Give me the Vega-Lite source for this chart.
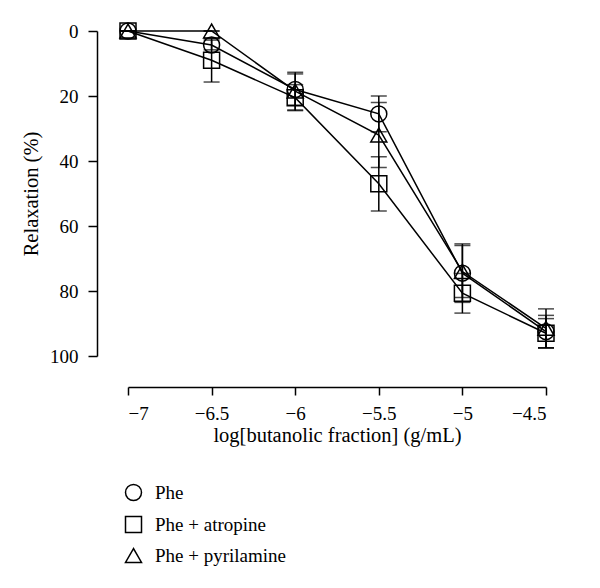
{
  "$schema": "https://vega.github.io/schema/vega-lite/v6.json",
  "autosize": "none",
  "width": 418,
  "height": 325,
  "padding": {"left": 128, "top": 31, "right": 54, "bottom": 232},
  "background": "white",
  "config": {
    "font": "Liberation Serif",
    "view": {"stroke": null},
    "axis": {"domainColor": "black", "tickColor": "black", "labelColor": "black", "titleColor": "black", "grid": false, "labelFont": "Liberation Serif", "titleFont": "Liberation Serif", "labelFontSize": 19, "titleFontSize": 20.5, "titleFontWeight": "normal", "domainWidth": 1.5, "tickWidth": 1.5}
  },
  "datasets": {
    "pts": [
      {"x": -7, "y": 0, "lo": 0, "hi": 0, "series": "Phe"},
      {"x": -6.5, "y": 4.3, "lo": 2.8, "hi": 5.8, "series": "Phe"},
      {"x": -6, "y": 18, "lo": 13.2, "hi": 22.8, "series": "Phe"},
      {"x": -5.5, "y": 25.5, "lo": 20, "hi": 31, "series": "Phe"},
      {"x": -5, "y": 74.5, "lo": 65.5, "hi": 83.5, "series": "Phe"},
      {"x": -4.5, "y": 92.5, "lo": 87.5, "hi": 97.5, "series": "Phe"},
      {"x": -7, "y": 0, "lo": 0, "hi": 0, "series": "Phe + atropine"},
      {"x": -6.5, "y": 9, "lo": 2.3, "hi": 15.7, "series": "Phe + atropine"},
      {"x": -6, "y": 20.5, "lo": 16.5, "hi": 24.5, "series": "Phe + atropine"},
      {"x": -5.5, "y": 47, "lo": 38.7, "hi": 55.4, "series": "Phe + atropine"},
      {"x": -5, "y": 80.7, "lo": 74.6, "hi": 86.8, "series": "Phe + atropine"},
      {"x": -4.5, "y": 93, "lo": 88.5, "hi": 97.5, "series": "Phe + atropine"},
      {"x": -7, "y": 0, "lo": 0, "hi": 0, "series": "Phe + pyrilamine"},
      {"x": -6.5, "y": 0, "lo": 0, "hi": 0, "series": "Phe + pyrilamine"},
      {"x": -6, "y": 18.5, "lo": 12.7, "hi": 24.3, "series": "Phe + pyrilamine"},
      {"x": -5.5, "y": 32, "lo": 22, "hi": 42, "series": "Phe + pyrilamine"},
      {"x": -5, "y": 74, "lo": 66, "hi": 82, "series": "Phe + pyrilamine"},
      {"x": -4.5, "y": 91.5, "lo": 85.5, "hi": 97.5, "series": "Phe + pyrilamine"}
    ]
  },
  "data": {"name": "pts"},
  "encoding": {
    "x": {"field": "x", "type": "quantitative", "scale": {"domain": [-7, -4.5], "nice": false, "zero": false},
      "axis": {"values": [-7, -6.5, -6, -5.5, -5, -4.5], "format": "~g", "offset": 31, "tickSize": 8, "labelPadding": 9, "title": "log[butanolic fraction] (g/mL)", "titlePadding": 2}},
    "y": {"field": "y", "type": "quantitative", "scale": {"domain": [0, 100], "reverse": true, "nice": false},
      "axis": {"values": [0, 20, 40, 60, 80, 100], "offset": 31, "tickSize": 9, "labelPadding": 10, "title": "Relaxation (%)", "titlePadding": 8}}
  },
  "layer": [
    {"mark": {"type": "rule", "color": "black", "strokeWidth": 1.5},
      "encoding": {"y": {"field": "lo", "type": "quantitative"}, "y2": {"field": "hi"}}},
    {"mark": {"type": "tick", "color": "black", "orient": "horizontal", "size": 16, "thickness": 1.5},
      "encoding": {"y": {"field": "lo", "type": "quantitative"}}},
    {"mark": {"type": "tick", "color": "black", "orient": "horizontal", "size": 16, "thickness": 1.5},
      "encoding": {"y": {"field": "hi", "type": "quantitative"}}},
    {"mark": {"type": "line", "color": "black", "strokeWidth": 1.5},
      "encoding": {"detail": {"field": "series"}}},
    {"mark": {"type": "point", "filled": false, "stroke": "black", "strokeWidth": 1.5, "size": 256, "opacity": 1},
      "encoding": {
        "shape": {"field": "series", "type": "nominal",
          "scale": {"domain": ["Phe", "Phe + atropine", "Phe + pyrilamine"], "range": ["circle", "square", "triangle-up"]},
          "legend": {"title": null, "orient": "none", "legendX": -4, "legendY": 452, "labelFont": "Liberation Serif", "labelFontSize": 19, "labelColor": "black", "symbolSize": 256, "symbolStrokeColor": "black", "symbolStrokeWidth": 1.5, "symbolFillColor": "transparent", "rowPadding": 9, "labelOffset": 12}}
      }}
  ]
}
